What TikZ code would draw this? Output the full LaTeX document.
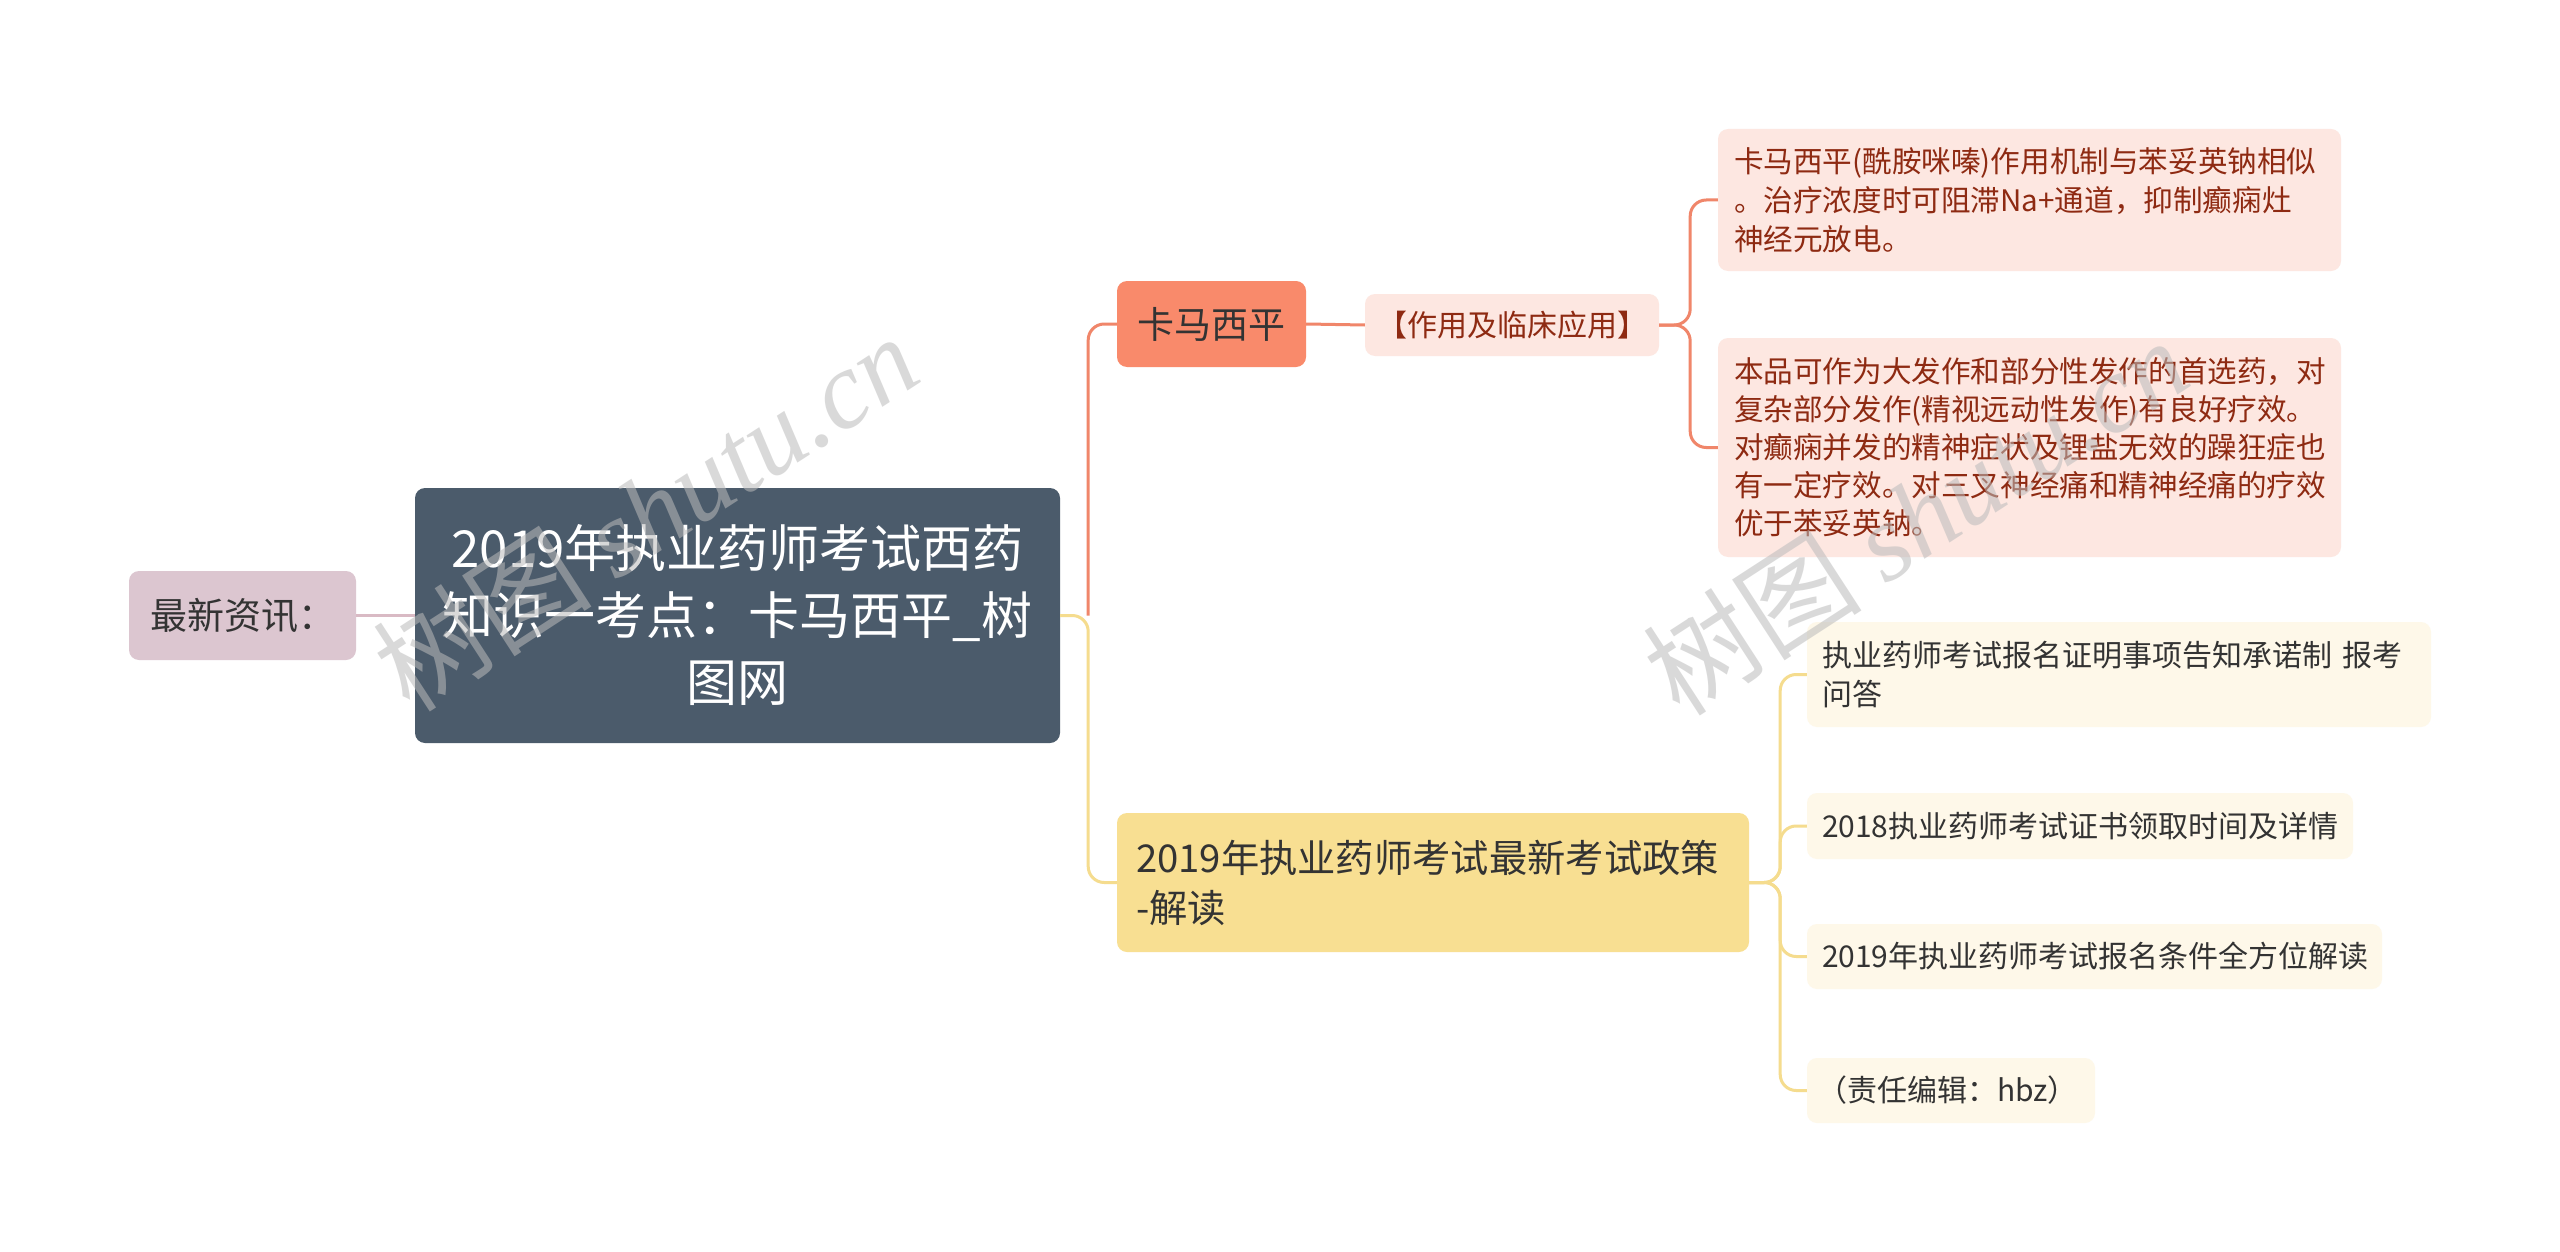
\documentclass[tikz,border=0pt]{standalone}
\usepackage{fontspec}
\setmainfont{Noto Sans CJK SC}
\newfontfamily\wmlatin{Liberation Serif}
\definecolor{mainfill}{HTML}{4B5B6B}
\definecolor{newsfill}{HTML}{DCC6D0}
\definecolor{newsline}{HTML}{D9BAC4}
\definecolor{kamafill}{HTML}{F98A6B}
\definecolor{salmonline}{HTML}{F0866A}
\definecolor{pinkfill}{HTML}{FDE7E1}
\definecolor{redtext}{HTML}{8E2A12}
\definecolor{yelfill}{HTML}{F8DF92}
\definecolor{yelline}{HTML}{F5DC8E}
\definecolor{leaffill}{HTML}{FEF8E9}
\definecolor{darktext}{HTML}{333333}
\definecolor{wmgray}{HTML}{BBBBBB}
\tikzset{
  box/.style={rounded corners=10pt, inner sep=0pt, draw=none},
  conn/.style={line width=3pt, rounded corners=16pt},
  wm/.style={text=wmgray, opacity=0.55, rotate=33, font=\fontsize{110pt}{110pt}\selectfont}
}
\begin{document}
\begin{tikzpicture}[x=1pt,y=-1pt]
\useasboundingbox[fill=white] (0,0) rectangle (2560,1252);

% root and side node
\node[box, fill=mainfill, text=white, minimum width=645pt, minimum height=255pt,
      align=center, font=\fontsize{51pt}{67pt}\selectfont] (main) at (737.5,615.5)
      {2019年执业药师考试西药\\知识一考点：卡马西平\_树\\图网};
\node[box, fill=newsfill, text=darktext, minimum width=227pt, minimum height=89pt,
      font=\fontsize{37pt}{40pt}\selectfont] (news) at (242.5,615.5) {最新资讯：};

% first branch
\node[box, fill=kamafill, text=darktext, minimum width=189pt, minimum height=86pt,
      font=\fontsize{37pt}{44pt}\selectfont] (kama) at (1211.5,324) {卡马西平};
\node[box, fill=pinkfill, text=redtext, minimum width=294pt, minimum height=62pt,
      font=\fontsize{30pt}{36pt}\selectfont] (use) at (1512,325) {【作用及临床应用】};
\node[box, fill=pinkfill, text=redtext, inner xsep=16pt, text width=591pt, minimum height=142pt,
      align=left, font=\fontsize{29.6pt}{39pt}\selectfont] (d1) at (2029.5,200)
      {卡马西平(酰胺咪嗪)作用机制与苯妥英钠相似\\。治疗浓度时可阻滞Na+通道，抑制癫痫灶\\神经元放电。};
\node[box, fill=pinkfill, text=redtext, inner xsep=16pt, text width=591pt, minimum height=219pt,
      align=left, font=\fontsize{29.6pt}{38pt}\selectfont] (d2) at (2029.5,447.5)
      {本品可作为大发作和部分性发作的首选药，对\\复杂部分发作(精视远动性发作)有良好疗效。\\对癫痫并发的精神症状及锂盐无效的躁狂症也\\有一定疗效。对三叉神经痛和精神经痛的疗效\\优于苯妥英钠。};

% second branch
\node[box, fill=yelfill, text=darktext, inner xsep=19pt, text width=594pt, minimum height=139pt,
      align=left, font=\fontsize{38.3pt}{50pt}\selectfont] (pol) at (1433,882.5)
      {2019年执业药师考试最新考试政策\\-解读};
\node[box, fill=leaffill, text=darktext, inner xsep=15pt, text width=594pt, minimum height=105pt,
      align=left, font=\fontsize{30pt}{39pt}\selectfont] (l1) at (2119,674.5)
      {执业药师考试报名证明事项告知承诺制 报考\\问答};
\node[box, fill=leaffill, text=darktext, inner xsep=15pt, text width=516pt, minimum height=66pt,
      align=left, font=\fontsize{30pt}{39pt}\selectfont] (l2) at (2080,826)
      {2018执业药师考试证书领取时间及详情};
\node[box, fill=leaffill, text=darktext, inner xsep=15pt, text width=545pt, minimum height=65pt,
      align=left, font=\fontsize{30pt}{39pt}\selectfont] (l3) at (2094.5,956.5)
      {2019年执业药师考试报名条件全方位解读};
\node[box, fill=leaffill, text=darktext, inner xsep=10pt, text width=268pt, minimum height=65pt,
      align=left, font=\fontsize{30pt}{39pt}\selectfont] (l4) at (1951,1090.5)
      {（责任编辑：hbz）};

% connectors
\draw[conn, newsline] (news.east) -- (main.west);
\draw[conn, yelline] (main.east) -- ++(28,0) |- (pol.west);
\draw[conn, salmonline] (main.east) ++(28,0) |- (kama.west);
\draw[conn, salmonline] (kama.east) -- (use.west);
\draw[conn, salmonline] (use.east) -- ++(31,0) |- (d1.west);
\draw[conn, salmonline] (use.east) -- ++(31,0) |- (d2.west);
\draw[conn, yelline] (pol.east) -- ++(31,0) |- (l1.west);
\draw[conn, yelline] (pol.east) -- ++(31,0) |- (l2.west);
\draw[conn, yelline] (pol.east) -- ++(31,0) |- (l3.west);
\draw[conn, yelline] (pol.east) -- ++(31,0) |- (l4.west);

% watermarks
\node[wm] (wm1) at (645,512) {树图 {\wmlatin\itshape shutu.cn}};
\node[wm] (wm2) at (1915,516) {树图 {\wmlatin\itshape shutu.cn}};
\end{tikzpicture}
\end{document}
